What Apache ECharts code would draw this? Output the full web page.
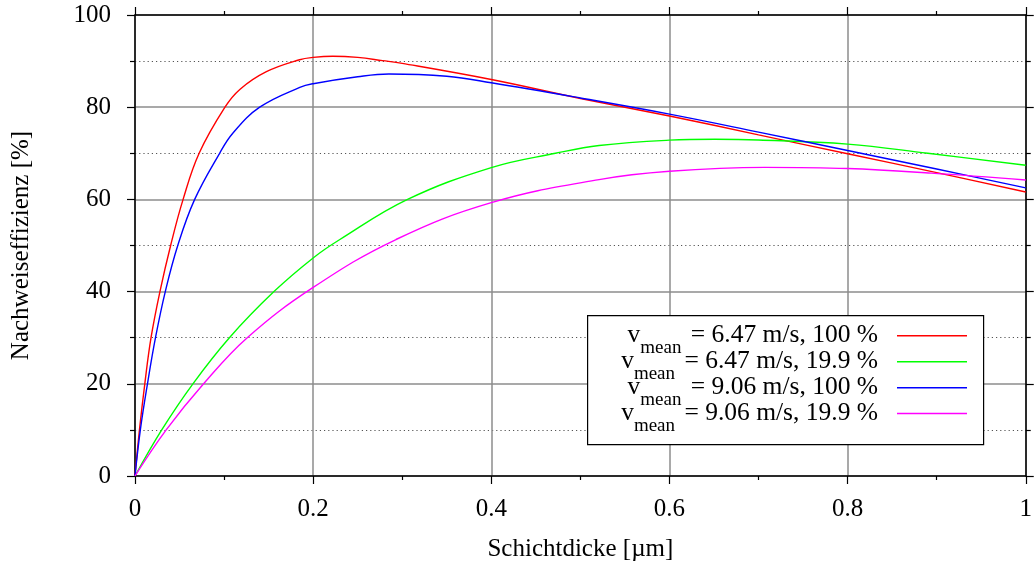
<!DOCTYPE html>
<html>
<head>
<meta charset="utf-8">
<script src="https://cdn.jsdelivr.net/npm/echarts@6/dist/echarts.min.js"></script>
<style>
html,body{margin:0;padding:0;background:#fff;}
#chart{width:1035px;height:567px;}
</style>
</head>
<body>
<div id="chart"></div>
<script>
// ---- data ----
const xTicks = [0, 0.2, 0.4, 0.6, 0.8, 1];
const yTicks = [0, 20, 40, 60, 80, 100];

const seriesNames = [
  'v_mean = 6.47 m/s, 100 %',
  'v_mean = 6.47 m/s, 19.9 %',
  'v_mean = 9.06 m/s, 100 %',
  'v_mean = 9.06 m/s, 19.9 %'
];
const legendSpeed = ['6.47', '6.47', '9.06', '9.06'];
const legendShare = ['100', '19.9', '100', '19.9'];

const red6100 = [
  [0, 0], [0.005, 10], [0.011, 20], [0.018, 30], [0.028, 40], [0.040, 50],
  [0.054, 60], [0.072, 70], [0.101, 80], [0.118, 83.9], [0.1475, 87.7], [0.1848, 90.3],
  [0.2, 90.8], [0.222, 91.05], [0.25, 90.8], [0.278, 90.1], [0.3, 89.5], [0.4, 86.0],
  [0.5, 81.9], [0.6, 78.1], [0.7, 74.0], [0.8, 69.9], [0.9, 65.8], [1, 61.6]
];
const green6199 = [
  [0, 0], [0.030, 10], [0.065, 20], [0.106, 30], [0.156, 40], [0.2, 47.3],
  [0.23, 51.3], [0.306, 60], [0.4, 66.9], [0.472, 70], [0.521, 71.7],
  [0.6, 72.85], [0.651, 73.05], [0.7, 72.9], [0.8, 72.0], [0.89, 70.0], [1, 67.4]
];
const blue9100 = [
  [0, 0], [0.006, 10], [0.014, 20], [0.023, 30], [0.034, 40], [0.048, 50],
  [0.067, 60], [0.095, 70], [0.110, 74.4], [0.140, 80], [0.185, 84.3], [0.2, 85.1],
  [0.25, 86.6], [0.285, 87.2], [0.35, 86.7], [0.4, 85.3], [0.5, 82.0], [0.6, 78.5],
  [0.7, 74.6], [0.8, 70.6], [0.9, 66.6], [1, 62.5]
];
const magenta9199 = [
  [0, 0], [0.035, 10], [0.077, 20], [0.126, 30], [0.2, 40.9],
  [0.293, 51.3], [0.4, 59.3], [0.521, 64.3],
  [0.6, 66.1], [0.707, 66.95], [0.8, 66.7], [0.894, 65.7], [1, 64.2]
];
const seriesData = [red6100, green6199, blue9100, magenta9199];
const seriesColors = ['#ff0000', '#00ff00', '#0000ff', '#ff00ff'];

// ---- chart ----
const FONT = 'Liberation Serif';
const FS = 25;
const chart = echarts.init(document.getElementById('chart'), null, {renderer: 'canvas'});

const axisLineStyle = {color: '#000', width: 1.5};
const tickStyle = {color: '#000', width: 1.2};

// legend rows (one legend component per row so the right edges line up)
const legendRowCenters = [340.7, 366.7, 392.7, 418.5];
const legends = seriesNames.map(function (name, i) {
  return {
    show: true,
    orient: 'vertical',
    align: 'right',
    right: 68,
    top: legendRowCenters[i] - 18,
    padding: 0,
    itemGap: 0,
    itemWidth: 70, itemHeight: 1.6,
    icon: 'rect',
    selectedMode: false,
    z: 5,
    data: [name],
    formatter: function () {
      return '{m|v}{s|mean}{m|\u00a0= ' + legendSpeed[i] + ' m/s, ' + legendShare[i] + ' %}{g|}';
    },
    textStyle: {
      color: '#000',
      fontFamily: FONT,
      fontSize: 25.5,
      rich: {
        m: {fontFamily: FONT, fontSize: 25.5, lineHeight: 26, color: '#000', verticalAlign: 'middle', align: 'left'},
        s: {fontFamily: FONT, fontSize: 19, lineHeight: 14, padding: [16, 3, 0, 0], color: '#000', verticalAlign: 'top', align: 'left'},
        g: {width: 14, lineHeight: 26, align: 'left'}
      }
    }
  };
});

const option = {
  animation: false,
  backgroundColor: '#fff',
  textStyle: {fontFamily: FONT, color: '#000'},
  grid: {left: 135, right: 7.5, top: 15, bottom: 89, containLabel: false},
  graphic: [{
    type: 'rect', left: 587, top: 315, z: 4,
    shape: {width: 396, height: 129},
    style: {fill: '#fff', stroke: '#000', lineWidth: 1.2}
  }],
  xAxis: [
    {
      type: 'value', min: xTicks[0], max: xTicks[xTicks.length - 1], interval: 0.2,
      position: 'bottom',
      name: 'Schichtdicke [µm]', nameLocation: 'middle', nameGap: 61,
      nameTextStyle: {fontFamily: FONT, fontSize: FS, color: '#000'},
      axisLine: {show: true, onZero: false, lineStyle: axisLineStyle},
      axisTick: {show: true, inside: false, length: 8, lineStyle: tickStyle},
      minorTick: {show: true, splitNumber: 2, length: 4, lineStyle: tickStyle},
      axisLabel: {fontFamily: FONT, fontSize: FS, color: '#000', margin: 21},
      splitLine: {show: true, lineStyle: {color: '#8c8c8c', width: 1.5}},
      minorSplitLine: {show: false}
    },
    {
      type: 'value', min: xTicks[0], max: xTicks[xTicks.length - 1], interval: 0.2,
      position: 'top',
      axisLine: {show: true, onZero: false, lineStyle: axisLineStyle},
      axisTick: {show: true, inside: false, length: 8, lineStyle: tickStyle},
      minorTick: {show: true, splitNumber: 2, length: 4, lineStyle: tickStyle},
      axisLabel: {show: false},
      splitLine: {show: false}
    }
  ],
  yAxis: [
    {
      type: 'value', min: yTicks[0], max: yTicks[yTicks.length - 1], interval: 20,
      position: 'left',
      name: 'Nachweiseffizienz [%]', nameLocation: 'middle', nameGap: 101, nameRotate: 90,
      nameTextStyle: {fontFamily: FONT, fontSize: FS, color: '#000'},
      axisLine: {show: true, onZero: false, lineStyle: axisLineStyle},
      axisTick: {show: true, inside: false, length: 8, lineStyle: tickStyle},
      minorTick: {show: true, splitNumber: 2, length: 5, lineStyle: tickStyle},
      axisLabel: {fontFamily: FONT, fontSize: FS, color: '#000', margin: 24},
      splitLine: {show: true, lineStyle: {color: '#8c8c8c', width: 1.5}},
      minorSplitLine: {show: true, lineStyle: {color: '#555', width: 1, type: [1.2, 3]}}
    },
    {
      type: 'value', min: yTicks[0], max: yTicks[yTicks.length - 1], interval: 20,
      position: 'right',
      axisLine: {show: true, onZero: false, lineStyle: axisLineStyle},
      axisTick: {show: true, inside: false, length: 8, lineStyle: tickStyle},
      minorTick: {show: true, splitNumber: 2, length: 5, lineStyle: tickStyle},
      axisLabel: {show: false},
      splitLine: {show: false}
    }
  ],
  legend: legends,
  series: seriesNames.map(function (name, i) {
    return {
      name: name,
      type: 'line',
      xAxisIndex: 0, yAxisIndex: 0,
      data: seriesData[i],
      showSymbol: false,
      symbol: 'none',
      smooth: 0.4,
      clip: true,
      lineStyle: {color: seriesColors[i], width: 1.4},
      itemStyle: {color: seriesColors[i]},
      z: 2
    };
  })
};
chart.setOption(option);
</script>
</body>
</html>
